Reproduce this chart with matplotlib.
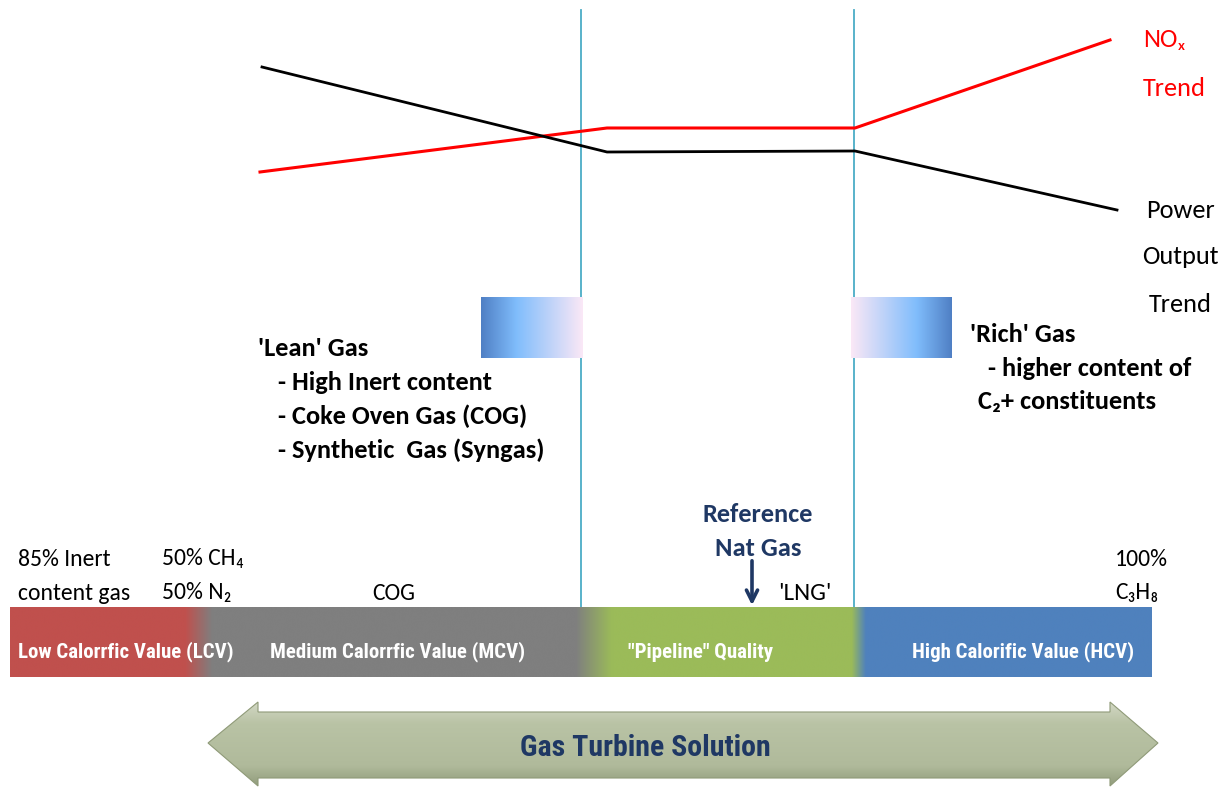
import numpy as np
import matplotlib.pyplot as plt
from matplotlib.patches import Polygon
from matplotlib.colors import to_rgb

plt.rcParams['font.family'] = ['Carlito', 'DejaVu Sans']
COND = ['Roboto Condensed', 'DejaVu Sans']

# trend lines (drawing units: px, y down)
nox_x = [260, 607, 855, 1110]
nox_y = [172, 128, 128, 40]
power_x = [262, 607, 855, 1117]
power_y = [67, 152, 151, 210]

# region boundaries
boundary_x = [581, 854]

# quality bands along the bottom bar
band_names = ['Low Calorrfic Value (LCV)', 'Medium Calorrfic Value (MCV)',
              '"Pipeline" Quality', 'High Calorific Value (HCV)']
band_label_x = [18, 270, 628, 912]
bar_x = [10, 185, 212, 576, 612, 852, 866, 1152]
bar_c = ['#c0504d', '#c0504d', '#7f7f7f', '#7f7f7f',
         '#9bbb59', '#9bbb59', '#4f81bd', '#4f81bd']

fig = plt.figure(figsize=(12.18, 7.87), dpi=100)
ax = fig.add_axes([0, 0, 1, 1])
ax.set_xlim(0, 1218)
ax.set_ylim(787, 0)
ax.axis('off')

for bx in boundary_x:
    ax.plot([bx, bx], [10, 612], color='#4bacc6', lw=1.3, zorder=1)

ax.plot(nox_x, nox_y, color='#ff0000', lw=2.2, zorder=3)
ax.plot(power_x, power_y, color='black', lw=2.0, zorder=3)

ax.text(1143, 40, 'NOₓ', color='#ff0000', fontsize=19, va='center')
ax.text(1143, 88, 'Trend', color='#ff0000', fontsize=19, va='center')
for txt, y in zip(['Power', 'Output', 'Trend'], [210, 257, 305]):
    ax.text(1180, y, txt, color='black', fontsize=19, va='center', ha='center')


def hgrad(x0, x1, y0, y1, stops, cols, z=2, n=512):
    xs = np.linspace(0, 1, n)
    rgb = np.array([to_rgb(c) for c in cols])
    img = np.stack([np.interp(xs, stops, rgb[:, k]) for k in range(3)], axis=-1)
    ax.imshow(img[None, :, :], extent=(x0, x1, y1, y0), aspect='auto',
              interpolation='bicubic', zorder=z)


# fading boxes either side of the pipeline window
hgrad(481, 583, 297, 358, [0, 0.35, 1], ['#4f7fc4', '#80bdfc', '#fbe8f6'])
hgrad(851, 952, 297, 358, [0, 0.65, 1], ['#fbe8f6', '#80bdfc', '#4f7fc4'])

lean = ["'Lean' Gas", '- High Inert content', '- Coke Oven Gas (COG)',
        '- Synthetic  Gas (Syngas)']
lean_x = [258, 278, 278, 278]
for i, (t, x) in enumerate(zip(lean, lean_x)):
    ax.text(x, 348 + 34 * i, t, fontsize=19, fontweight='bold', va='center')
rich = ["'Rich' Gas", '- higher content of', 'C₂+ constituents']
rich_x = [970, 988, 978]
for i, (t, x) in enumerate(zip(rich, rich_x)):
    ax.text(x, 334 + 34 * i, t, fontsize=19, fontweight='bold', va='center')

# bottom bar, colours blended at the band edges
span = bar_x[-1] - bar_x[0]
hgrad(bar_x[0], bar_x[-1], 607, 677, [(x - bar_x[0]) / span for x in bar_x],
      bar_c, n=1400)
for name, lx in zip(band_names, band_label_x):
    ax.text(lx, 652, name, color='white', fontsize=15, fontweight='bold',
            family=COND, va='center', zorder=4)

navy = '#1f3864'
ax.text(758, 514, 'Reference', color=navy, fontsize=19, fontweight='bold',
        ha='center', va='center')
ax.text(758, 548, 'Nat Gas', color=navy, fontsize=19, fontweight='bold',
        ha='center', va='center')
ax.annotate('', xy=(752, 608), xytext=(752, 558),
            arrowprops=dict(arrowstyle='->', color=navy, lw=2.6, mutation_scale=20))
ax.text(778, 594, "'LNG'", fontsize=18, va='center')

small = [(18, 559, '85% Inert'), (18, 593, 'content gas'),
         (162, 559, '50% CH₄'), (162, 593, '50% N₂'),
         (372, 593, 'COG'), (1115, 559, '100%'), (1115, 593, 'C₃H₈')]
for x, y, t in small:
    ax.text(x, y, t, fontsize=17, va='center')

# double-headed arrow underneath
arrow_pts = [(208, 743), (258, 702), (258, 712), (1110, 712), (1110, 702),
             (1158, 743), (1110, 786), (1110, 778), (258, 778), (258, 786)]
poly = Polygon(arrow_pts, closed=True, facecolor='none', edgecolor='#8f9a78',
               lw=0.8, zorder=3)
ax.add_patch(poly)
ys = np.linspace(0, 1, 100)
shade = np.array([to_rgb('#d2d8c4'), to_rgb('#b9c3a5'), to_rgb('#b0ba9b'),
                  to_rgb('#909b7b')])
col = np.stack([np.interp(ys, [0, 0.25, 0.75, 1], shade[:, k]) for k in range(3)],
               axis=-1)
im = ax.imshow(np.repeat(col[:, None, :], 2, axis=1), extent=(207, 1160, 787, 702),
               aspect='auto', zorder=2)
im.set_clip_path(poly)
ax.text(645, 748, 'Gas Turbine Solution', color=navy, fontsize=21.5,
        fontweight='bold', family=COND, ha='center', va='center', zorder=4)

fig.savefig('out.png', dpi=100)
